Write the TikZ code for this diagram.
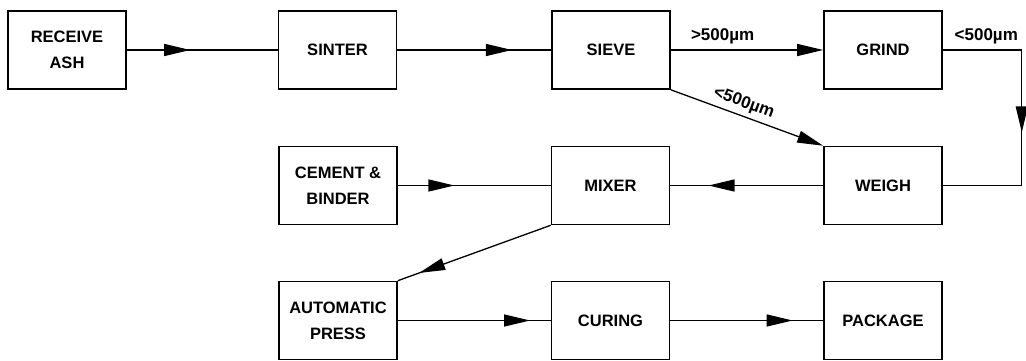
\documentclass[tikz,border=0pt]{standalone}
\usepackage{fontspec}
\setmainfont{Liberation Sans}
\usetikzlibrary{arrows.meta, decorations.markings}
\tikzset{
  pbox/.style={draw, line width=1.6pt, minimum width=118pt, minimum height=78pt,
               inner sep=0pt, align=center,
               font=\fontsize{16.5}{26}\selectfont\bfseries},
  flow/.style={line width=1.3pt},
  endtip/.style={-{Triangle[length=26pt,width=12pt]}},
  tipat/.style={postaction={decorate},
                decoration={markings, mark=at position #1 with
                  {\arrow{Triangle[length=26pt,width=12pt]}}}},
  sizelbl/.style={font=\fontsize{17}{18}\selectfont\bfseries},
}
\begin{document}
\begin{tikzpicture}[x=1pt, y=-1pt]
    \useasboundingbox (0,0) rectangle (1026,361);
    % top row
    \node[pbox] (recv)    at (67,50)    {RECEIVE\\ASH};
    \node[pbox] (sinter)  at (337.5,50) {SINTER};
    \node[pbox] (sieve)   at (611,50)   {SIEVE};
    \node[pbox] (grind)   at (883,50)   {GRIND};
    % middle row
    \node[pbox] (cement)  at (338,185.5)   {CEMENT \&\\BINDER};
    \node[pbox] (mixer)   at (610.5,185.5) {MIXER};
    \node[pbox] (weigh)   at (883,185.5)   {WEIGH};
    % bottom row
    \node[pbox] (press)   at (338,320.5)   {AUTOMATIC\\PRESS};
    \node[pbox] (curing)  at (610.5,320.5) {CURING};
    \node[pbox] (package) at (883,320.5)   {PACKAGE};
    % flow
    \draw[flow, tipat=0.42]  (recv) -- (sinter);
    \draw[flow, tipat=0.745] (sinter) -- (sieve);
    \draw[flow, endtip] (sieve) -- node[sizelbl, above=2pt, pos=0.34] {>500µm} (grind);
    \draw[flow, endtip] (sieve.south east) -- node[sizelbl, sloped, above=1pt, pos=0.45] {<500µm} (weigh.north west);
    \draw[flow, tipat=0.55] (grind.east) -- node[sizelbl, above=2pt, xshift=4pt] {<500µm} ++(79,0) |- (weigh.east);
    \draw[flow, tipat=0.75]  (weigh) -- (mixer);
    \draw[flow, tipat=0.37]  (cement) -- (mixer);
    \draw[flow, tipat=0.86]  (mixer.south west) -- (press.north east);
    \draw[flow, tipat=0.865] (press) -- (curing);
    \draw[flow, tipat=0.80]  (curing) -- (package);
\end{tikzpicture}
\end{document}
